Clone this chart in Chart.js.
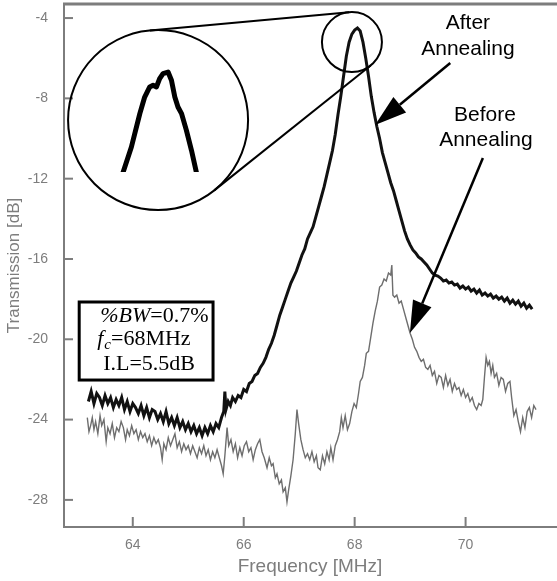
<!DOCTYPE html>
<html><head><meta charset="utf-8">
<script src="https://cdn.jsdelivr.net/npm/chart.js@4.4.1/dist/chart.umd.min.js"></script>
<style>html,body{margin:0;padding:0;background:#fff}canvas{display:block}</style>
</head><body>
<div style="width:557px;height:581px"><canvas id="c" width="557" height="581"></canvas></div>
<script>
const xTicks = [64, 66, 68, 70];
const yTicks = [-28, -24, -20, -16, -12, -8, -4];

const afterFreq = [63.20,63.25,63.30,63.35,63.40,63.45,63.50,63.55,63.60,63.65,63.70,63.75,63.80,63.85,63.90,63.95,64.00,64.05,64.10,64.15,64.20,64.25,64.30,64.35,64.40,64.45,64.50,64.55,64.60,64.65,64.70,64.75,64.80,64.85,64.90,64.95,65.00,65.05,65.10,65.15,65.20,65.25,65.30,65.35,65.40,65.45,65.50,65.55,65.60,65.64,65.66,65.68,65.72,65.76,65.80,65.85,65.90,65.95,66.00,66.05,66.10,66.15,66.20,66.25,66.30,66.35,66.40,66.45,66.50,66.55,66.60,66.65,66.70,66.75,66.80,66.85,66.90,66.95,67.00,67.05,67.10,67.15,67.20,67.25,67.30,67.35,67.40,67.45,67.50,67.55,67.60,67.65,67.70,67.75,67.80,67.85,67.90,67.95,68.00,68.05,68.10,68.15,68.20,68.25,68.30,68.35,68.40,68.45,68.50,68.55,68.60,68.65,68.70,68.75,68.80,68.85,68.90,68.95,69.00,69.05,69.10,69.15,69.20,69.25,69.30,69.35,69.40,69.45,69.50,69.55,69.60,69.65,69.70,69.75,69.80,69.85,69.90,69.95,70.00,70.05,70.10,70.15,70.20,70.25,70.30,70.35,70.40,70.45,70.50,70.55,70.60,70.65,70.70,70.75,70.80,70.85,70.90,70.95,71.00,71.05,71.10,71.15,71.20];
const afterDb = [-23.1,-22.6,-23.2,-22.7,-22.9,-23.3,-22.8,-23.2,-22.9,-23.4,-23.0,-23.3,-22.9,-23.5,-23.1,-23.6,-23.2,-23.4,-23.7,-23.3,-23.8,-23.4,-23.9,-23.5,-23.6,-24.0,-23.7,-24.1,-23.6,-24.2,-23.9,-24.3,-23.9,-24.4,-24.1,-24.5,-24.2,-24.6,-24.3,-24.7,-24.4,-24.8,-24.4,-24.7,-24.3,-24.6,-24.2,-24.4,-23.9,-23.6,-22.6,-23.5,-23.1,-23.3,-22.9,-23.1,-22.8,-22.9,-22.5,-22.6,-22.2,-22.1,-21.8,-21.7,-21.4,-21.2,-20.9,-20.5,-20.2,-19.8,-19.3,-18.8,-18.4,-18.0,-17.6,-17.2,-16.9,-16.6,-16.2,-15.8,-15.5,-15.0,-14.7,-14.4,-13.9,-13.4,-12.9,-12.4,-11.8,-11.2,-10.6,-9.8,-8.8,-7.9,-6.9,-5.9,-5.2,-4.8,-4.6,-4.5,-4.65,-5.2,-6.0,-6.9,-7.9,-8.7,-9.4,-10.0,-10.7,-11.2,-11.7,-12.2,-12.6,-13.1,-13.6,-14.1,-14.6,-15.0,-15.3,-15.55,-15.7,-15.9,-16.0,-16.15,-16.3,-16.5,-16.7,-16.8,-16.85,-16.95,-17.1,-17.05,-17.2,-17.15,-17.3,-17.25,-17.45,-17.35,-17.5,-17.4,-17.6,-17.5,-17.7,-17.55,-17.8,-17.7,-17.85,-17.75,-17.95,-17.85,-18.0,-17.9,-18.1,-17.95,-18.2,-18.05,-18.25,-18.1,-18.35,-18.2,-18.45,-18.3,-18.5];

const beforeFreq = [63.18,63.21,63.24,63.27,63.30,63.33,63.37,63.41,63.44,63.48,63.52,63.55,63.59,63.63,63.67,63.71,63.75,63.79,63.83,63.87,63.90,63.94,63.98,64.02,64.06,64.10,64.14,64.18,64.22,64.26,64.30,64.34,64.38,64.42,64.46,64.50,64.53,64.56,64.60,64.64,64.68,64.72,64.76,64.80,64.84,64.88,64.92,64.96,65.00,65.04,65.08,65.12,65.16,65.20,65.24,65.28,65.32,65.36,65.40,65.44,65.48,65.52,65.56,65.60,65.63,65.66,65.70,65.73,65.77,65.81,65.85,65.89,65.93,65.97,66.01,66.05,66.09,66.13,66.17,66.21,66.25,66.29,66.33,66.37,66.42,66.46,66.50,66.53,66.57,66.60,66.64,66.68,66.71,66.75,66.78,66.81,66.85,66.89,66.93,66.96,66.99,67.03,67.07,67.11,67.15,67.19,67.23,67.27,67.31,67.34,67.38,67.42,67.46,67.50,67.54,67.57,67.61,67.65,67.69,67.73,67.76,67.79,67.83,67.87,67.91,67.95,67.99,68.03,68.07,68.10,68.14,68.18,68.21,68.25,68.29,68.33,68.37,68.41,68.45,68.49,68.53,68.57,68.61,68.65,68.67,68.69,68.72,68.76,68.80,68.84,68.88,68.92,68.96,69.00,69.04,69.08,69.12,69.16,69.20,69.24,69.28,69.32,69.36,69.40,69.44,69.48,69.52,69.56,69.60,69.64,69.68,69.72,69.76,69.80,69.84,69.88,69.92,69.96,70.00,70.04,70.08,70.12,70.16,70.20,70.24,70.28,70.31,70.34,70.37,70.40,70.43,70.46,70.49,70.52,70.56,70.60,70.64,70.68,70.72,70.76,70.80,70.83,70.87,70.91,70.95,70.99,71.03,71.07,71.11,71.15,71.19,71.23,71.27];
const beforeDb = [-23.9,-24.6,-24.3,-23.9,-24.5,-24.1,-24.7,-23.8,-24.3,-24.0,-25.1,-24.4,-24.7,-24.2,-24.9,-24.4,-24.6,-24.1,-24.4,-25.0,-24.5,-24.8,-24.3,-24.7,-24.5,-25.0,-24.6,-24.9,-24.7,-25.1,-24.8,-25.3,-24.9,-25.2,-25.0,-25.4,-26.0,-25.2,-25.5,-24.9,-25.3,-25.0,-24.7,-25.4,-25.1,-25.6,-25.2,-25.5,-25.3,-25.7,-25.3,-25.6,-25.9,-25.4,-25.7,-25.3,-25.8,-25.5,-26.0,-25.6,-25.9,-25.5,-25.9,-26.3,-26.7,-25.8,-24.4,-25.3,-25.0,-25.6,-25.2,-25.9,-25.4,-25.8,-25.3,-25.1,-25.6,-25.4,-26.0,-25.5,-25.2,-25.0,-25.6,-25.9,-26.4,-25.9,-26.3,-26.2,-26.9,-26.7,-27.2,-27.0,-27.6,-27.4,-28.1,-27.5,-26.8,-26.0,-24.7,-23.5,-24.2,-25.0,-25.5,-25.9,-25.7,-26.0,-25.6,-26.1,-25.8,-26.4,-26.5,-25.8,-26.2,-25.6,-26.0,-25.4,-26.0,-25.3,-25.0,-24.6,-23.9,-24.4,-23.8,-24.5,-24.2,-23.6,-23.2,-23.4,-22.7,-22.1,-21.9,-21.3,-20.7,-20.6,-19.9,-19.2,-18.6,-18.1,-17.4,-17.3,-17.0,-17.1,-16.7,-16.8,-16.3,-17.8,-17.9,-17.8,-18.2,-18.1,-18.5,-18.9,-19.3,-19.7,-20.0,-20.4,-20.6,-20.9,-21.1,-21.0,-21.4,-21.5,-21.3,-21.8,-21.6,-22.2,-21.8,-21.9,-22.4,-21.8,-22.3,-22.0,-22.6,-22.2,-22.5,-22.4,-22.8,-22.5,-22.9,-22.7,-23.1,-22.9,-23.3,-23.5,-23.2,-23.3,-23.0,-21.9,-20.9,-21.3,-21.1,-21.7,-21.3,-21.9,-21.7,-22.3,-21.9,-22.0,-22.6,-22.2,-22.1,-22.9,-23.8,-23.5,-24.1,-24.6,-23.9,-24.4,-23.6,-23.4,-23.9,-23.3,-23.5];

// magnified peak shown in the inset circle
const insetFreq = [67.822,67.848,67.887,67.927,67.950,67.974,67.990,68.006,68.021,68.037,68.061,68.077,68.093,68.108,68.125,68.148,68.172,68.195,68.211];
const insetDb = [-6.226,-5.958,-5.592,-5.103,-4.860,-4.713,-4.688,-4.713,-4.590,-4.517,-4.494,-4.615,-4.860,-5.006,-5.103,-5.348,-5.640,-5.958,-6.226];

const GRAY = '#7d7d7d';
const SANS = '"Liberation Sans", Arial, Helvetica, sans-serif';
const SERIF = '"Liberation Serif", "Times New Roman", serif';

function pts(fx, fy) { return fx.map((f, i) => ({x: f, y: fy[i]})); }

const deco = {
  id: 'deco',
  beforeDraw(chart) {
    const c = chart.ctx; c.save(); c.fillStyle = '#fff'; c.fillRect(0, 0, chart.width, chart.height); c.restore();
  },
  afterDraw(chart) {
    const {ctx, chartArea: a, scales: {x, y}} = chart;
    const X = v => x.getPixelForValue(v), Y = v => y.getPixelForValue(v);
    ctx.save();
    // top frame line
    ctx.strokeStyle = GRAY; ctx.lineWidth = 3;
    ctx.beginPath(); ctx.moveTo(a.left - 1, a.top); ctx.lineTo(chart.width, a.top); ctx.stroke();
    // inward ticks
    ctx.lineWidth = 2;
    xTicks.forEach(v => { const p = X(v); ctx.beginPath(); ctx.moveTo(p, a.bottom); ctx.lineTo(p, a.bottom - 10); ctx.stroke(); });
    yTicks.forEach(v => { const p = Y(v); ctx.beginPath(); ctx.moveTo(a.left, p); ctx.lineTo(a.left + 9, p); ctx.stroke(); });

    // magnifier circles
    const c2 = {x: X(67.951), y: Y(-5.195), r: 30};
    const c1 = {x: X(64.456), y: Y(-9.08), r: 90};
    ctx.strokeStyle = '#000'; ctx.lineWidth = 2;
    ctx.beginPath(); ctx.arc(c2.x, c2.y, c2.r, 0, Math.PI * 2); ctx.stroke();
    ctx.beginPath(); ctx.arc(c1.x, c1.y, c1.r, 0, Math.PI * 2); ctx.stroke();
    const dx = c2.x - c1.x, dy = c2.y - c1.y, D = Math.hypot(dx, dy);
    const phi = Math.atan2(dy, dx), ang = Math.acos((c2.r - c1.r) / D);
    [phi + ang, phi - ang].forEach(t => {
      const nx = Math.cos(t), ny = Math.sin(t);
      ctx.beginPath();
      ctx.moveTo(c1.x - c1.r * nx, c1.y - c1.r * ny);
      ctx.lineTo(c2.x - c2.r * nx, c2.y - c2.r * ny);
      ctx.stroke();
    });
    // inset magnified curve
    const ax = X(68.061), ay = Y(-4.494);
    const ix = c1.x + 10, iy = c1.y - 48, kx = 3.8, ky = 3.4;
    ctx.save();
    ctx.beginPath(); ctx.arc(c1.x, c1.y, c1.r - 1, 0, Math.PI * 2); ctx.clip();
    ctx.beginPath(); ctx.rect(c1.x - c1.r, c1.y - c1.r, 2 * c1.r, c1.r + 52); ctx.clip();
    ctx.lineWidth = 5; ctx.lineJoin = 'round'; ctx.strokeStyle = '#000';
    ctx.beginPath();
    insetFreq.forEach((f, i) => {
      const px = ix + (X(f) - ax) * kx, py = iy + (Y(insetDb[i]) - ay) * ky;
      if (i === 0) ctx.moveTo(px, py); else ctx.lineTo(px, py);
    });
    ctx.stroke();
    ctx.restore();

    // arrows
    function arrow(f1, v1, f2, v2) {
      const x1 = X(f1), y1 = Y(v1), x2 = X(f2), y2 = Y(v2);
      const t = Math.atan2(y2 - y1, x2 - x1), L = 32, W = 10;
      const bx = x2 - L * Math.cos(t), by = y2 - L * Math.sin(t);
      ctx.lineWidth = 2.5; ctx.strokeStyle = '#000'; ctx.fillStyle = '#000';
      ctx.beginPath(); ctx.moveTo(x1, y1); ctx.lineTo(bx, by); ctx.stroke();
      ctx.beginPath(); ctx.moveTo(x2, y2);
      ctx.lineTo(bx + W * Math.sin(t), by - W * Math.cos(t));
      ctx.lineTo(bx - W * Math.sin(t), by + W * Math.cos(t));
      ctx.closePath(); ctx.fill();
    }
    arrow(69.724, -6.241, 68.368, -9.329);
    arrow(70.312, -10.972, 68.996, -19.687);

    // labels
    ctx.fillStyle = '#000'; ctx.font = '21px ' + SANS; ctx.textAlign = 'center'; ctx.textBaseline = 'middle';
    ctx.fillText('After', X(70.042), Y(-4.249));
    ctx.fillText('Annealing', X(70.042), Y(-5.544));
    ctx.fillText('Before', X(70.350), Y(-8.83));
    ctx.fillText('Annealing', X(70.366), Y(-10.076));

    // info box
    const bx0 = X(63.034), by0 = Y(-18.143), bx1 = X(65.447), by1 = Y(-22.03);
    ctx.lineWidth = 3; ctx.strokeStyle = '#000';
    ctx.strokeRect(bx0, by0, bx1 - bx0, by1 - by0);
    ctx.textAlign = 'left'; ctx.textBaseline = 'alphabetic';
    let cx = bx0 + 21, cy = by0 + 20;
    ctx.font = 'italic 22px ' + SERIF; ctx.fillText('%BW', cx, cy); cx += ctx.measureText('%BW').width;
    ctx.font = '22px ' + SERIF; ctx.fillText('=0.7%', cx, cy);
    cx = bx0 + 18; cy = by0 + 43;
    ctx.font = 'italic 22px ' + SERIF; ctx.fillText('f', cx, cy); cx += ctx.measureText('f').width + 1;
    ctx.font = 'italic 15px ' + SERIF; ctx.fillText('c', cx, cy + 4); cx += ctx.measureText('c').width;
    ctx.font = '22px ' + SERIF; ctx.fillText('=68MHz', cx, cy);
    cx = bx0 + 24; cy = by0 + 68;
    ctx.fillText('I.L=5.5dB', cx, cy);
    ctx.restore();
  }
};

new Chart(document.getElementById('c'), {
  type: 'line',
  data: {
    datasets: [
      {label: 'Before Annealing', data: pts(beforeFreq, beforeDb), borderColor: '#6e6e6e', borderWidth: 1.4, pointRadius: 0, tension: 0, fill: false},
      {label: 'After Annealing', data: pts(afterFreq, afterDb), borderColor: '#111', borderWidth: 3, pointRadius: 0, tension: 0, fill: false}
    ]
  },
  options: {
    responsive: false, devicePixelRatio: 1, animation: false,
    layout: {padding: {top: 4, right: 1, left: 0, bottom: 0}},
    plugins: {legend: {display: false}, tooltip: {enabled: false}},
    scales: {
      x: {
        type: 'linear', min: 62.76, max: 71.63,
        afterBuildTicks: s => { s.ticks = xTicks.map(v => ({value: v})); },
        afterFit: s => { s.height = 54; s.paddingLeft = 0; s.paddingRight = 0; },
        grid: {display: false, drawTicks: false},
        border: {display: true, color: GRAY, width: 2},
        ticks: {color: GRAY, font: {family: SANS, size: 14}, padding: 10},
        title: {display: true, text: 'Frequency [MHz]', color: GRAY, font: {family: SANS, size: 19}, padding: {top: 0, bottom: 3}}
      },
      y: {
        type: 'linear', min: -29.35, max: -3.30,
        afterBuildTicks: s => { s.ticks = yTicks.map(v => ({value: v})); },
        afterFit: s => { s.width = 64; s.paddingTop = 0; s.paddingBottom = 0; },
        grid: {display: false, drawTicks: false},
        border: {display: true, color: GRAY, width: 2},
        ticks: {color: GRAY, font: {family: SANS, size: 14}, padding: 16},
        title: {display: true, text: 'Transmission [dB]', color: GRAY, font: {family: SANS, size: 17}, padding: {top: 4, bottom: 0}}
      }
    }
  },
  plugins: [deco]
});
</script>
</body></html>
